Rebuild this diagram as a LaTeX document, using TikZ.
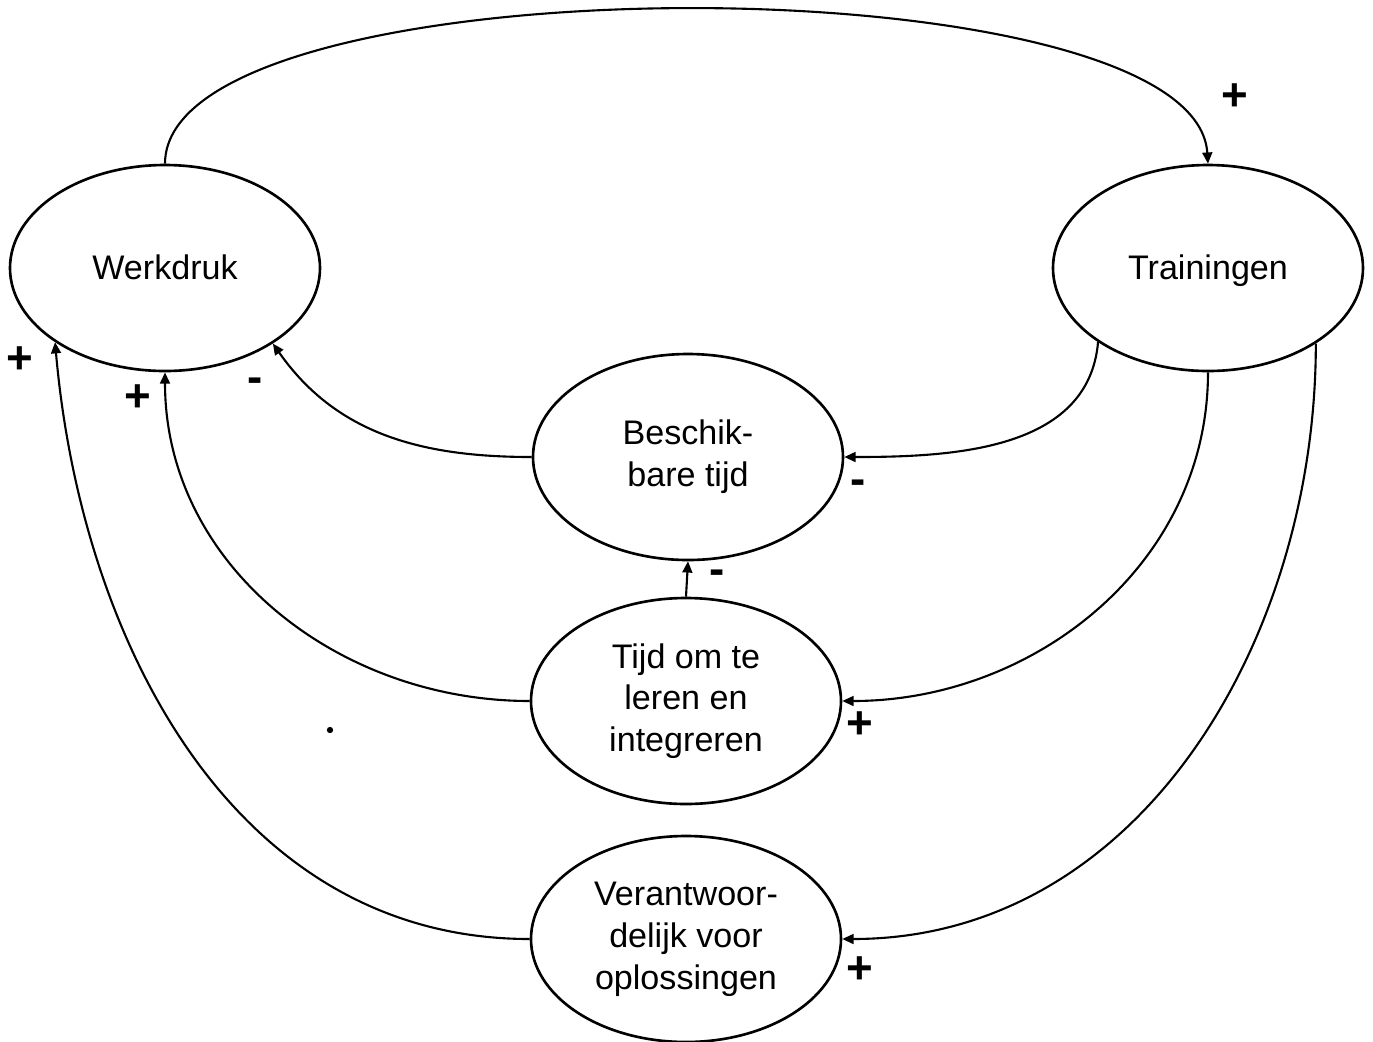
\documentclass[tikz,border=0pt]{standalone}
\usepackage{fontspec}
\setmainfont{Liberation Sans}
\usetikzlibrary{shapes.geometric,arrows.meta}

\tikzset{
  estado/.style={draw,ellipse,line width=0.75pt,minimum width=3.1cm,minimum height=2.06cm,
    inner sep=0pt,align=center,font=\fontsize{9.7}{11.9}\selectfont},
  simple/.style={text height=1.75ex,text depth=0.55ex},
  flecha/.style={line width=0.6pt,-{Triangle[length=3.2pt,width=2.8pt]}},
  signo/.style={font=\fontsize{13}{13}\selectfont\bfseries,inner sep=0pt}
}

\begin{document}
\begin{tikzpicture}
        % Paso 1: Fija el marco de la figura
        \useasboundingbox (0,0) rectangle (13.73,-10.41);

        % Paso 2: Coloca los cinco estados
        \node[estado,simple] (wd) at (1.65,-2.68) {Werkdruk};
        \node[estado,simple] (tr) at (12.08,-2.68) {Trainingen};
        \node[estado] (bt) at (6.88,-4.57) {Beschik-\\bare tijd};
        \node[estado] (tl) at (6.86,-7.01) {Tijd om te\\leren en\\integreren};
        \node[estado] (vv) at (6.86,-9.39) {Verantwoor-\\delijk voor\\oplossingen};

        % Paso 3: Dibuja las flechas entre estados
        \draw[flecha] (wd.north) .. controls (1.65,0.42) and (11.95,0.42) .. (tr.north);
        \draw[flecha] (bt.west) to[out=180,in=-55] (wd.-35);
        \draw[flecha] (tl.west) to[out=180,in=-90] (wd.south);
        \draw[flecha] (vv.west) to[out=180,in=-85] (wd.-146);
        \draw[flecha] (tr.-146) to[out=-95,in=0] (bt.east);
        \draw[flecha] (tr.south) to[out=-90,in=0] (tl.east);
        \draw[flecha] (tr.-35) to[out=-90,in=0] (vv.east);
        \draw[flecha] (tl.north) -- (bt.south);

        % Paso 4: Coloca los signos de cada flecha
        \node[signo] (s1) at (12.35,-0.97) {+};
        \node[signo] (s2) at (2.55,-3.85) {-};
        \node[signo] (s3) at (1.38,-3.98) {+};
        \node[signo] (s4) at (0.20,-3.60) {+};
        \node[signo] (s5) at (8.58,-4.87) {-};
        \node[signo] (s6) at (8.60,-7.25) {+};
        \node[signo] (s7) at (8.60,-9.70) {+};
        \node[signo] (s8) at (7.17,-5.77) {-};

        % Paso 5: Punto suelto
        \fill (3.30,-7.30) circle (0.9pt);
    \end{tikzpicture}
\end{document}
